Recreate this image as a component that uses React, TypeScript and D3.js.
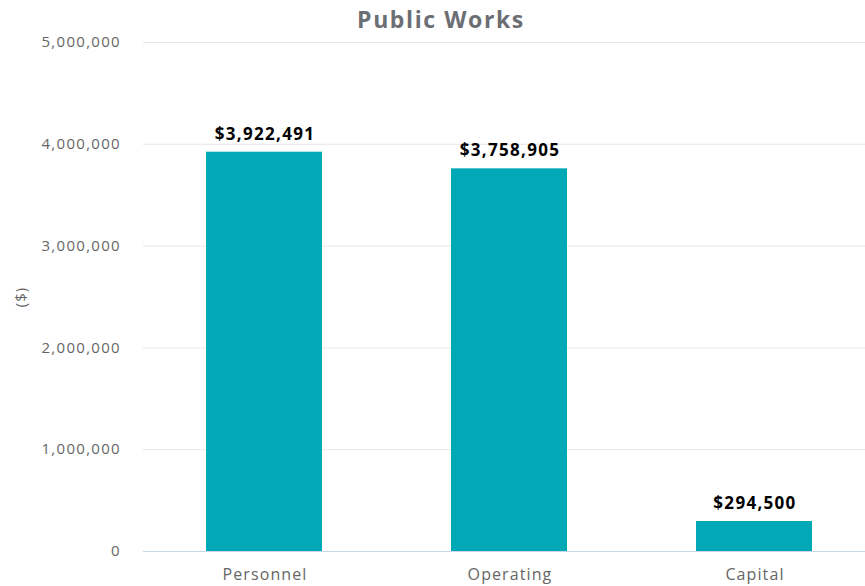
import React from "react";
import * as d3 from "d3";

const categories = ["Personnel", "Operating", "Capital"];
const values = [3922491, 3758905, 294500];
const yTicks = [0, 1000000, 2000000, 3000000, 4000000, 5000000];
const chartTitle = "Public Works";
const yTitle = "($)";

export default function App() {
  const W = 865, H = 586;
  const font = "'Open Sans', 'DejaVu Sans', sans-serif";
  const y = d3.scaleLinear().domain([0, 5000000]).range([551, 42]);
  const x = d3.scaleBand<string>().domain(categories).range([141.5, 876.5]).padding(0);
  const barW = x.bandwidth() * 0.4735;
  const fmt = d3.format(",");
  return (
    <svg width={W} height={H} style={{ position: "absolute", left: 0, top: 0, background: "#fff" }} fontFamily={font}>
      <text x={441} y={28} textAnchor="middle" fontSize={23} fontWeight={700} fill="#6b6e73" letterSpacing={1.6}>{chartTitle}</text>
      {yTicks.map((t) => (
        <g key={t}>
          {t !== 0 && <line x1={143} x2={W} y1={y(t) + 0.5} y2={y(t) + 0.5} stroke="#e6e6e6" strokeWidth={1} />}
          <text x={121} y={y(t)} dy="0.35em" textAnchor="end" fontSize={15} fill="#666666" letterSpacing={1.3}>{fmt(t)}</text>
        </g>
      ))}
      <text transform={`translate(26,297) rotate(-90)`} textAnchor="middle" fontSize={15} fill="#666666" letterSpacing={1}>{yTitle}</text>
      {categories.map((c, i) => {
        const cx = (x(c) as number) + x.bandwidth() / 2;
        return (
          <g key={c}>
            <rect x={cx - barW / 2} y={y(values[i])} width={barW} height={y(0) - y(values[i])} fill="#00a9b5" />
            <text x={cx + 1} y={y(values[i]) - 12} textAnchor="middle" fontSize={17} fontWeight={700} fill="#000" letterSpacing={1.3}>{"$" + fmt(values[i])}</text>
            <text x={cx + 1} y={580} textAnchor="middle" fontSize={16} fill="#666666" letterSpacing={1.1}>{c}</text>
          </g>
        );
      })}
      <line x1={143} x2={W} y1={551.5} y2={551.5} stroke="#ccd6eb" strokeWidth={1} />
    </svg>
  );
}
